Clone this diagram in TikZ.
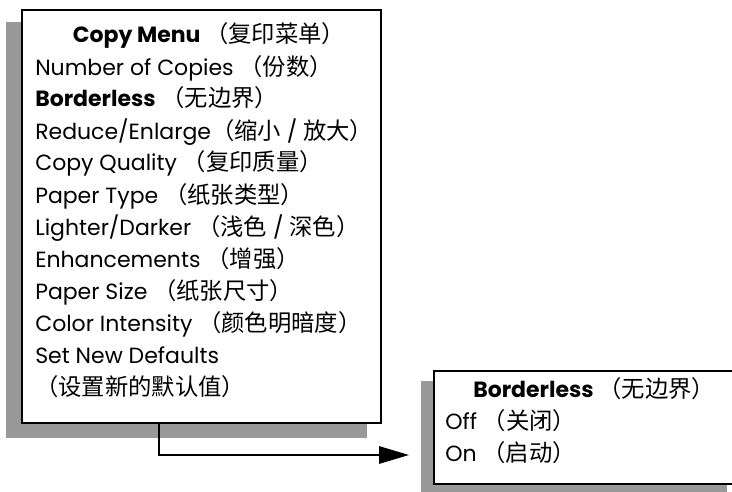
\documentclass[tikz,border=0pt]{standalone}
\usepackage{fontspec}
\setmainfont{Poppins}
\newfontfamily\cjk{Noto Sans CJK SC}
\usetikzlibrary{arrows.meta}
\newcommand{\zh}[1]{{\cjk\fontsize{17.5}{18}\selectfont #1}}

\begin{document}
\begin{tikzpicture}[x=0.75pt,y=-0.75pt,
  shade/.style={fill=black!40},
  menubox/.style={draw,line width=1.5pt,fill=white,inner sep=0pt},
  item/.style={anchor=base west,inner sep=0pt,font=\fontsize{16.5}{18}\selectfont},
  head/.style={item,font=\fontsize{16.5}{18}\selectfont\bfseries}]
\useasboundingbox (0,0) rectangle (732,492);
%
\fill [shade] (6,22) rectangle (367,438);
\fill [shade] (421,381) rectangle (727,500);
\node (menu) [menubox,minimum width=269.25pt,minimum height=309.75pt] at (201.5,216.5) {};
\node (sub) [menubox,minimum width=230.25pt,minimum height=84.75pt] at (587.5,427.5) {};
%
\node (menutitle) [head,anchor=base] at (209,43) {Copy Menu \zh{\mdseries（复印菜单）}};
\foreach \t [count=\i] in {
  {Number of Copies \zh{（份数）}},
  {\textbf{Borderless} \zh{（无边界）}},
  {Reduce/Enlarge\zh{（缩小}~/~\zh{放大）}},
  {Copy Quality \zh{（复印质量）}},
  {Paper Type \zh{（纸张类型）}},
  {Lighter/Darker \zh{（浅色}~/~\zh{深色）}},
  {Enhancements \zh{（增强）}},
  {Paper Size \zh{（纸张尺寸）}},
  {Color Intensity \zh{（颜色明暗度）}},
  {Set New Defaults},
  {\zh{（设置新的默认值）}}}
  \node (m\i) [item] at (35,43+32*\i) {\t};
%
\node (subtitle) [head] at (473,397) {Borderless \zh{\mdseries（无边界）}};
\node (off) [item] at (445,429) {Off \zh{（关闭）}};
\node (on) [item] at (445,461) {On \zh{（启动）}};
%
\coordinate (tip) at (409,455);
\draw [line width=1.5pt,-{Triangle[length=22.5pt,width=13pt]}] ([xshift=103.5pt]menu.south west) |- (tip);
\end{tikzpicture}
\end{document}
